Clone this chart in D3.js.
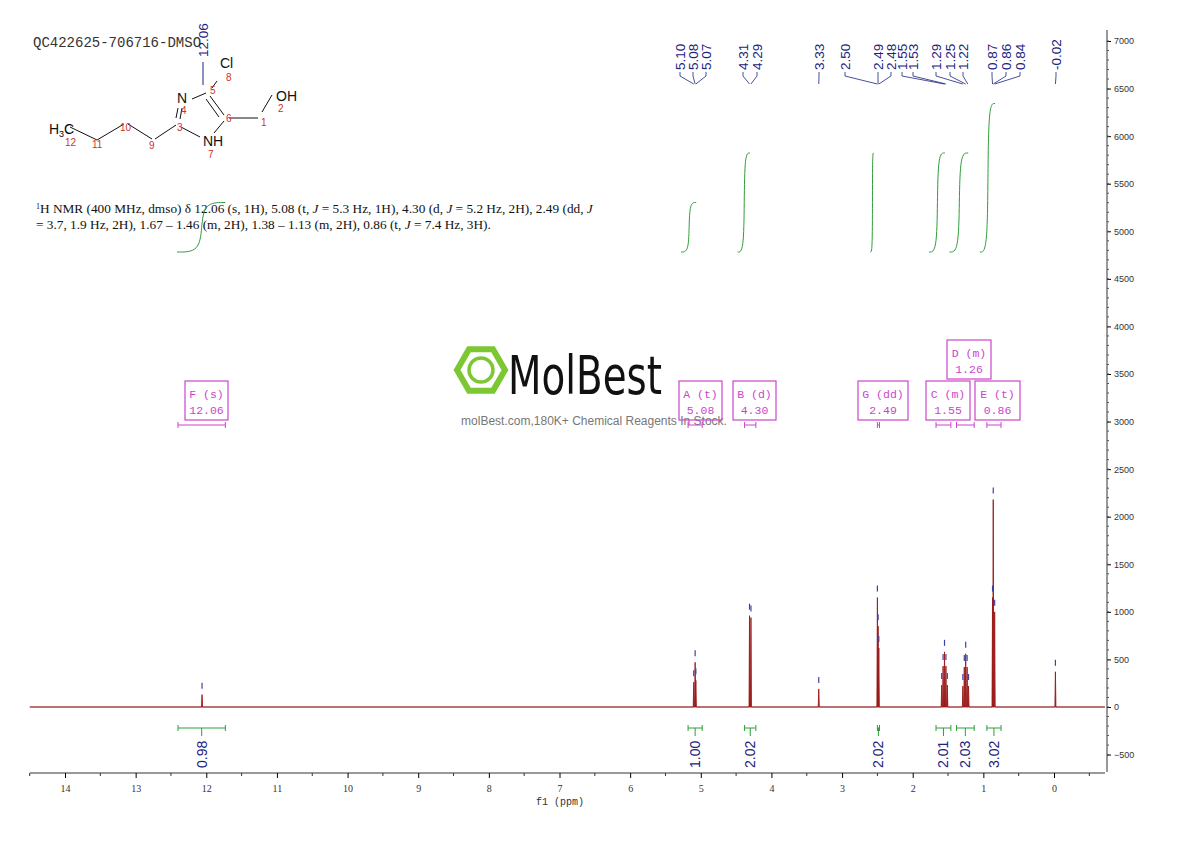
<!DOCTYPE html>
<html><head><meta charset="utf-8">
<script src="https://cdn.jsdelivr.net/npm/d3@7"></script>
<style>body{margin:0;background:#fff}svg{display:block}</style>
</head><body><svg id="c" width="1190" height="841"></svg>
<script>
// ---------- data ----------
const peakPpm    = [12.06, 5.10, 5.08, 5.07, 4.31, 4.29, 3.33, 2.50, 2.49, 2.48, 1.59, 1.57, 1.55, 1.53, 1.51, 1.29, 1.27, 1.25, 1.23, 1.21, 0.87, 0.86, 0.84, -0.02];
const peakHeight = [130, 260, 470, 280, 960, 940, 190, 1150, 850, 620, 230, 430, 580, 430, 230, 220, 420, 560, 420, 220, 1150, 2180, 1000, 370];
const labelTexts = ["5.10","5.08","5.07","4.31","4.29","3.33","2.50","2.49","2.48","1.55","1.53","1.29","1.25","1.22","0.87","0.86","0.84","-0.02"];
const labelPpm   = [5.10,5.08,5.07,4.31,4.29,3.33,2.50,2.49,2.48,1.55,1.53,1.29,1.25,1.22,0.87,0.86,0.84,-0.02];
const multName   = ["F (s)","A (t)","B (d)","G (dd)","C (m)","D (m)","E (t)"];
const multShift  = ["12.06","5.08","4.30","2.49","1.55","1.26","0.86"];
const multFrom   = [12.40, 5.18, 4.38, 2.50, 1.67, 1.38, 0.95];
const multTo     = [11.73, 4.98, 4.22, 2.47, 1.46, 1.13, 0.75];
const intValue   = ["0.98","1.00","2.02","2.02","2.01","2.03","3.02"];
const intRise    = [1, 1, 2, 2, 2, 2, 3];
const xTicks     = [14,13,12,11,10,9,8,7,6,5,4,3,2,1,0];
const yTicks     = [-500,0,500,1000,1500,2000,2500,3000,3500,4000,4500,5000,5500,6000,6500,7000];

const svg = d3.select("#c");
const x = d3.scaleLinear().domain([14,0]).range([65,1054]);
const y = d3.scaleLinear().domain([0,7000]).range([707,41]);
const navy = "#1a237e", green = "#2e9e3a", mag = "#cc44cc";

// title
svg.append("text").attr("x",33).attr("y",47).attr("font-family","'Liberation Mono',monospace")
  .attr("font-size",14).attr("fill","#333").text("QC422625-706716-DMSO");

// ---------- axes ----------
const xa = svg.append("g").attr("transform","translate(0,773)")
  .call(d3.axisBottom(x).tickValues(xTicks).tickSize(5).tickFormat(d3.format("d")));
xa.select(".domain").attr("d","M30,0H1105").attr("stroke","#333");
xa.selectAll("text").attr("font-family","'Liberation Serif',serif").attr("font-size",10).attr("fill","#333").attr("dy","1.1em");
svg.append("g").selectAll("line").data(d3.range(14.5,-0.6,-0.5).filter(v=>v%1!==0)).join("line")
  .attr("x1",d=>x(d)).attr("x2",d=>x(d)).attr("y1",773).attr("y2",776).attr("stroke","#333");
svg.append("text").attr("x",560).attr("y",805).attr("text-anchor","middle").attr("font-family","'Liberation Mono',monospace")
  .attr("font-size",10).attr("fill","#333").text("f1 (ppm)");

const ya = svg.append("g").attr("transform","translate(1107,0)")
  .call(d3.axisRight(y).tickValues(yTicks).tickSize(4).tickFormat(d3.format("d")));
ya.select(".domain").attr("d","M0,30V772").attr("stroke","#333");
ya.selectAll("text").attr("font-family","'Liberation Sans',sans-serif").attr("font-size",9).attr("fill","#333");
svg.append("g").selectAll("line").data(d3.range(-500,7001,100)).join("line")
  .attr("x1",1107).attr("x2",1109).attr("y1",d=>y(d)).attr("y2",d=>y(d)).attr("stroke","#555");

// ---------- watermark ----------
const wm = svg.append("g");
const hx = 481, hy = 370;
wm.append("path").attr("d", d3.line()(d3.range(6).map(i=>[hx+24*Math.cos(Math.PI/3*i),hy+24*Math.sin(Math.PI/3*i)]))+"Z")
  .attr("fill","none").attr("stroke","#7dc832").attr("stroke-width",6);
wm.append("circle").attr("cx",hx).attr("cy",hy).attr("r",12).attr("fill","none").attr("stroke","#7dc832").attr("stroke-width",3.5);
wm.append("text").attr("x",508).attr("y",394).attr("font-family","'DejaVu Sans Condensed','Liberation Sans Narrow',sans-serif")
  .attr("font-size",54).attr("fill","#111").attr("textLength",154).attr("lengthAdjust","spacingAndGlyphs").text("MolBest");
wm.append("text").attr("x",594).attr("y",425).attr("text-anchor","middle").attr("font-family","'Liberation Sans',sans-serif")
  .attr("font-size",12).attr("fill","#777").text("molBest.com,180K+ Chemical Reagents In Stock.");

// ---------- spectrum ----------
const pts = [[14.5,0]];
peakPpm.map((p,i)=>({p,h:peakHeight[i]})).sort((a,b)=>b.p-a.p).forEach(d=>{
  pts.push([d.p+0.007,0],[d.p,d.h],[d.p-0.007,0]);
});
pts.push([-0.72,0]);
const line = d3.line().x(d=>x(d[0])).y(d=>y(d[1]));
svg.append("line").attr("x1",30).attr("x2",1105).attr("y1",y(0)).attr("y2",y(0)).attr("stroke","#b07070").attr("stroke-width",1);
svg.append("path").attr("d",line(pts)).attr("fill","#8b0a0a").attr("stroke","#9b1b1b").attr("stroke-width",0.9);
svg.append("g").selectAll("line").data(peakPpm.map((p,i)=>[p,peakHeight[i]])).join("line")
  .attr("x1",d=>x(d[0])).attr("x2",d=>x(d[0])).attr("y1",d=>y(d[1])-12).attr("y2",d=>y(d[1])-6)
  .attr("stroke","#4040a0").attr("stroke-width",1.2);

// ---------- peak labels ----------
const lblX = [680,693,706,743,757,819,845,878,891,902,913,936,950,963,992,1006,1020,1056];
const lg = svg.append("g");
labelTexts.forEach((t,i)=>{
  lg.append("text").attr("transform",`translate(${lblX[i]+5},${70}) rotate(-90)`)
    .attr("font-family","'Liberation Sans',sans-serif").attr("font-size",13.5).attr("fill",navy).text(t);
});
labelTexts.forEach((t,i)=>{
  const tx = x(labelPpm[i]);
  lg.append("path").attr("d",`M${lblX[i]},72 V76 L${tx},84`).attr("fill","none").attr("stroke",navy).attr("stroke-width",0.8);
});
svg.append("text").attr("transform","translate(208,57) rotate(-90)").attr("font-family","'Liberation Sans',sans-serif")
  .attr("font-size",13.5).attr("fill",navy).text("12.06");
svg.append("line").attr("x1",203).attr("x2",203).attr("y1",62).attr("y2",85).attr("stroke",navy);

// ---------- structure ----------
const st = svg.append("g").attr("stroke","#111").attr("stroke-width",1).attr("fill","none");
const bonds = [[[70,127],[97,140]],[[97,140],[124,124]],[[128,124],[152,139]],[[155,139],[176,125]],
  [[180,119],[182,108]],[[192,99],[206,93]],[[210,96],[224,115]],[[229,118],[258,118]],[[262,112],[272,95]],
  [[224,121],[214,133]],[[181,127],[200,137]],[[212,88],[217,81]]];
bonds.forEach(b=>st.append("line").attr("x1",b[0][0]).attr("y1",b[0][1]).attr("x2",b[1][0]).attr("y2",b[1][1]));
st.append("line").attr("x1",176).attr("y1",118).attr("x2",178).attr("y2",108);
st.append("line").attr("x1",206).attr("y1",99).attr("x2",219).attr("y2",117);
const atoms = [["N",177,103],["Cl",220,68],["OH",276,101],["NH",203,146],["H",49,134]];
atoms.forEach(a=>svg.append("text").attr("x",a[1]).attr("y",a[2]).attr("font-family","'Liberation Sans',sans-serif").attr("font-size",14).attr("fill","#111").text(a[0]));
svg.append("text").attr("x",59).attr("y",137).attr("font-family","'Liberation Sans',sans-serif").attr("font-size",9).text("3");
svg.append("text").attr("x",64).attr("y",134).attr("font-family","'Liberation Sans',sans-serif").attr("font-size",14).text("C");
const nums = [["12",65,146],["11",92,148],["10",120,131],["9",149,149],["3",177,131],["4",181,114],["5",210,94],["8",226,81],["6",226,122],["1",261,126],["2",278,112],["7",208,158]];
nums.forEach(n=>svg.append("text").attr("x",n[1]).attr("y",n[2]).attr("font-family","'Liberation Sans',sans-serif").attr("font-size",10).attr("fill","#d03030").text(n[0]));

// description
const desc = svg.append("g").attr("font-family","'Liberation Serif',serif").attr("font-size",13.3).attr("fill","#111");
const t1 = desc.append("text").attr("x",36).attr("y",213);
t1.append("tspan").attr("font-size",8).attr("dy",-4).text("1");
t1.append("tspan").attr("dy",4).text("H NMR (400 MHz, dmso) δ 12.06 (s, 1H), 5.08 (t, ");
t1.append("tspan").attr("font-style","italic").text("J");
t1.append("tspan").text(" = 5.3 Hz, 1H), 4.30 (d, ");
t1.append("tspan").attr("font-style","italic").text("J");
t1.append("tspan").text(" = 5.2 Hz, 2H), 2.49 (dd, ");
t1.append("tspan").attr("font-style","italic").text("J");
const t2 = desc.append("text").attr("x",36).attr("y",229);
t2.append("tspan").text("= 3.7, 1.9 Hz, 2H), 1.67 – 1.46 (m, 2H), 1.38 – 1.13 (m, 2H), 0.86 (t, ");
t2.append("tspan").attr("font-style","italic").text("J");
t2.append("tspan").text(" = 7.4 Hz, 3H).");

// ---------- integral curves ----------
const ig = svg.append("g").attr("fill","none").attr("stroke",green).attr("stroke-width",1);
multFrom.forEach((f,i)=>{
  const x0 = x(f)-(i===0?0:6), x1 = x(multTo[i])-(i===0?0:6), yb = 252, yt = 252 - intRise[i]*49.5;
  const curve = d3.line().curve(d3.curveBasis)([[x0-1,yb],[x0+(x1-x0)*0.45,yb],[x0+(x1-x0)*0.5,(yb+yt)/2],[x0+(x1-x0)*0.55,yt],[x1,yt]]);
  ig.append("path").attr("d",curve);
});

// ---------- multiplet boxes ----------
const boxY = [381,381,381,381,381,340,381];
const boxX = [185,679,733,858,926,947,975];
const boxW = [43,43,43,50,44,44,45];
const mb = svg.append("g");
multName.forEach((n,i)=>{
  mb.append("rect").attr("x",boxX[i]).attr("y",boxY[i]).attr("width",boxW[i]).attr("height",39)
    .attr("fill","none").attr("stroke",mag).attr("stroke-width",1.2);
  const cx = boxX[i]+boxW[i]/2;
  mb.append("text").attr("x",cx).attr("y",boxY[i]+17).attr("text-anchor","middle").attr("font-family","'Liberation Mono',monospace")
    .attr("font-size",11.5).attr("fill",mag).text(n);
  mb.append("text").attr("x",cx).attr("y",boxY[i]+33).attr("text-anchor","middle").attr("font-family","'Liberation Mono',monospace")
    .attr("font-size",11.5).attr("fill",mag).text(multShift[i]);
  const a = x(multFrom[i]), b = x(multTo[i]);
  mb.append("path").attr("d",`M${a},422V428M${a},425H${b}M${b},422V428`).attr("stroke",mag).attr("fill","none");
});

// ---------- integration brackets ----------
const ib = svg.append("g");
intValue.forEach((v,i)=>{
  const a = x(multFrom[i]), b = x(multTo[i]), m = (a+b)/2;
  ib.append("path").attr("d",`M${a},725V731M${a},728H${b}M${b},725V731M${m},728V736`).attr("stroke",green).attr("fill","none");
  ib.append("text").attr("transform",`translate(${m+5},768) rotate(-90)`).attr("font-family","'Liberation Sans',sans-serif")
    .attr("font-size",14).attr("fill",navy).text(v);
});
</script></body></html>
